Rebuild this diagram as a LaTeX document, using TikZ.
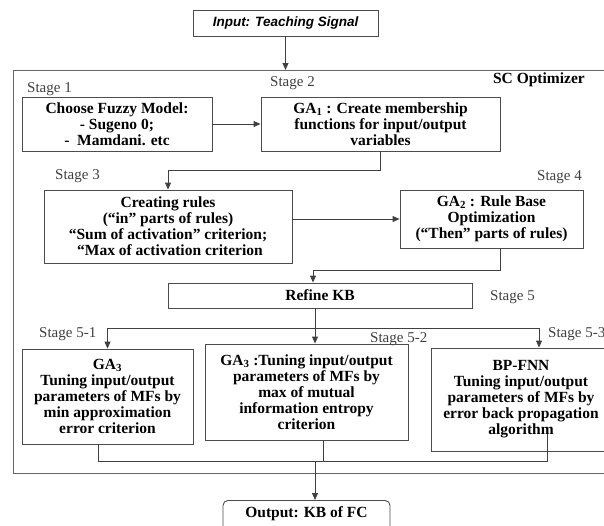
\documentclass[tikz,border=0pt]{standalone}
\usepackage{fontspec}
\setmainfont{Liberation Serif}
\newfontfamily\arialfont{Liberation Sans}
\usetikzlibrary{arrows.meta,calc}
\begin{document}
\begin{tikzpicture}[x=1pt,y=-1pt,
  box/.style={draw=black!70, line width=0.9pt, align=center, inner sep=0pt,
    font=\fontsize{15.5}{16}\selectfont\bfseries},
  stagelbl/.style={text=black!75, font=\fontsize{15}{16}\selectfont, inner sep=0pt},
  conn/.style={draw=black!75, line width=0.9pt},
  arr/.style={conn, -{Triangle[length=7pt,width=6pt]}},
  framebox/.style={draw=black!60, line width=1pt, inner sep=0pt},
]
\useasboundingbox (0,0) rectangle (604,525);
\clip (0,0) rectangle (604,525);

% frame
\node[framebox, minimum width=627pt, minimum height=403pt, anchor=north west] (frame) at (13,70) {};
\node[anchor=east, inner sep=0pt, font=\fontsize{15.5}{16}\selectfont\bfseries] (sco) at (585,80) {SC Optimizer};

% input
\node[box, minimum width=185pt, minimum height=26pt, font=\arialfont\fontsize{13.5}{15}\selectfont\bfseries\itshape] (inp) at (285.5,23) {Input: Teaching Signal};

% stage 1 / 2
\node[stagelbl, anchor=west] (st1) at (27,89) {Stage 1};
\node[stagelbl, anchor=west] (st2) at (270,83) {Stage 2};
\node[box, minimum width=190pt, minimum height=54pt] (choose) at (117,124)
  {Choose Fuzzy Model:\\- Sugeno 0;\\-\ \ Mamdani. etc};
\node[box, minimum width=239pt, minimum height=54pt] (ga1) at (380.5,124)
  {GA\textsubscript{1} : Create membership\\functions for input/output\\variables};

% stage 3 / 4
\node[stagelbl, anchor=west] (st3) at (55,176) {Stage 3};
\node[stagelbl, anchor=east] (st4) at (582,177) {Stage 4};
\node[box, minimum width=248pt, minimum height=73pt] (create) at (168,226.5)
  {Creating rules\\(“in” parts of rules)\\“Sum of activation” criterion;\\\ “Max of activation criterion};
\node[box, minimum width=183pt, minimum height=58pt] (ga2) at (491.5,219)
  {GA\textsubscript{2} : Rule Base\\Optimization\\(“Then” parts of rules)};

% stage 5
\node[box, minimum width=304pt, minimum height=25pt] (refine) at (320,295.5) {Refine KB};
\node[stagelbl, anchor=west] (st5) at (490,297) {Stage 5};

\node[stagelbl, anchor=west] (st51) at (39,334) {Stage 5-1};
\node[stagelbl, anchor=west] (st52) at (370,339) {Stage 5-2};
\node[stagelbl, anchor=west] (st53) at (548,334) {Stage 5-3};

\node[box, minimum width=171pt, minimum height=95pt] (b51) at (107.5,396.5)
  {GA\textsubscript{3}\\Tuning input/output\\parameters of MFs by\\min approximation\\error criterion};
\node[box, minimum width=203pt, minimum height=96pt] (b52) at (306.5,392)
  {GA\textsubscript{3} :Tuning input/output\\parameters of MFs by\\max of mutual\\information entropy\\criterion};
\node[box, minimum width=180pt, minimum height=103pt] (b53) at (521,399.5)
  {BP-FNN\\Tuning input/output\\parameters of MFs by\\error back propagation\\algorithm};

% output
\node[box, rounded corners=5pt, minimum width=167pt, minimum height=40pt, anchor=north] (out) at (306.5,500)
  {\raisebox{16pt}{Output: KB of FC}};

% connectors
\draw[arr] (inp.south) -- (inp.south |- frame.north);
\draw[arr] (choose.east) -- (ga1.west);
\draw[arr] (ga1.south) -- ++(0,19) -| (create.north);
\draw[arr] (create.east |- ga2.west) -- (ga2.west);
\draw[arr] ([xshift=8.5pt]ga2.south) -- ++(0,22) -| ([xshift=-7pt]refine.north);
\draw[arr] ([xshift=-5pt]refine.south) -- ([xshift=8.5pt]b52.north);

\coordinate (d1) at (107.5,328);
\coordinate (d3) at (539,328);
\draw[conn] (d1) -- (d3);
\draw[arr] (d1) -- (b51.north);
\draw[arr] (d3) -- ([xshift=18pt]b53.north);

\coordinate (c1) at (98,461);
\coordinate (c2) at (315,461);
\coordinate (c3) at (547,461);
\coordinate (c3top) at (547,434);
\draw[conn] ([xshift=-9.5pt]b51.south) -- (c1) -- (c3) -- (c3top);
\draw[conn] ([xshift=16.5pt]b52.south) -- ([xshift=16.5pt]b52.south |- c1);
\draw[arr] (c2) -- ([xshift=8.5pt]out.north);
\end{tikzpicture}
\end{document}
